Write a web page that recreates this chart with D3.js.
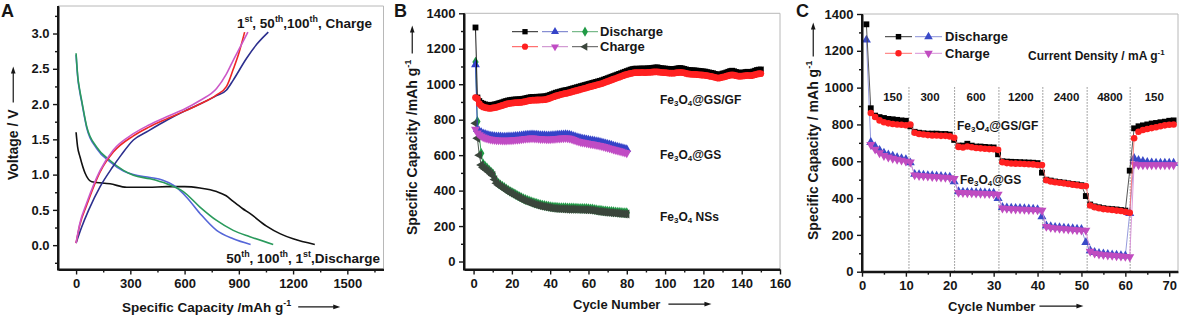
<!DOCTYPE html>
<html><head><meta charset="utf-8">
<script src="https://cdn.jsdelivr.net/npm/d3@7"></script>
<style>
body{margin:0;background:#fff}
svg{display:block}
text{font-family:"Liberation Sans",Arial,Helvetica,sans-serif;font-weight:bold;fill:#161616}
</style>
</head><body>
<script>
// ---------------- Panel A data: [capacity mAh/g, voltage V] ----------------
const aCharge1st   = [[0,0.03],[20,0.28],[59,0.57],[133,1.04],[206,1.32],[317,1.55],[400,1.67],[501,1.79],[600,1.9],[685,2.0],[777,2.13],[832,2.25],[870,2.5],[900,2.72],[932,3.02]];
const aCharge50th  = [[0,0.03],[20,0.3],[59,0.6],[133,1.06],[206,1.35],[317,1.58],[400,1.7],[501,1.82],[600,1.93],[685,2.05],[777,2.22],[830,2.42],[869,2.62],[910,2.82],[950,3.02]];
const aCharge100th = [[0,0.03],[30,0.25],[70,0.5],[133,0.83],[200,1.1],[250,1.28],[317,1.49],[400,1.62],[501,1.77],[600,1.9],[685,2.0],[777,2.12],[832,2.2],[869,2.34],[943,2.65],[1000,2.85],[1063,3.02]];
const aDis1st   = [[0,1.6],[8,1.4],[22,1.25],[50,1.02],[87,0.9],[188,0.87],[280,0.82],[400,0.82],[501,0.83],[600,0.83],[685,0.81],[777,0.76],[830,0.7],[869,0.62],[920,0.52],[961,0.45],[1053,0.27],[1130,0.16],[1200,0.09],[1320,0.01]];
const aDis50th  = [[0,2.7],[3,2.58],[9,2.38],[20,2.18],[31,2.03],[59,1.66],[114,1.37],[188,1.18],[262,1.05],[317,1.0],[409,0.96],[480,0.92],[538,0.85],[611,0.68],[685,0.45],[777,0.21],[869,0.09],[965,0.01]];
const aDis100th = [[0,2.72],[3,2.6],[9,2.4],[20,2.2],[31,2.05],[59,1.68],[114,1.39],[188,1.2],[262,1.06],[317,0.99],[409,0.94],[501,0.87],[593,0.76],[685,0.54],[777,0.35],[869,0.21],[961,0.12],[1090,0.01]];
const aXTicks = [0,300,600,900,1200,1500];
const aXMinor = [150,450,750,1050,1350,1650];
const aYTicks = [0,0.5,1,1.5,2,2.5,3];
const aYMinor = [-0.25,0.25,0.75,1.25,1.75,2.25,2.75,3.25];

// ---------------- Panel B data: capacity per cycle (cycle = index+1) ----------------
const bGSGFDis = [1320,925,905,895,890,886,884,882,882,884,886,888,892,895,898,902,905,908,910,912,
913,914,914,915,916,918,920,923,925,927,928,928,929,929,930,930,931,933,936,940,
944,948,952,955,958,961,964,966,968,971,974,977,980,983,986,989,992,995,998,1001,
1004,1007,1010,1013,1016,1019,1022,1026,1030,1034,1038,1042,1046,1050,1054,1058,1062,1066,1070,1074,
1078,1082,1085,1087,1088,1086,1088,1089,1087,1088,1090,1089,1091,1093,1094,1095,1092,1090,1089,1088,
1087,1086,1085,1084,1086,1088,1090,1091,1089,1086,1083,1080,1079,1078,1078,1077,1076,1075,1073,1072,
1071,1068,1066,1064,1062,1058,1055,1052,1056,1060,1062,1066,1070,1074,1076,1073,1069,1066,1064,1065,
1066,1068,1070,1069,1068,1072,1076,1080,1082,1083];
const bGSGFCha = [925,918,890,878,872,868,866,864,864,866,868,870,874,877,880,884,887,890,892,894,
895,896,896,897,898,900,902,905,907,909,910,910,911,911,912,912,913,915,918,922,
926,930,934,937,940,943,946,948,950,953,956,959,962,965,968,971,974,977,980,983,
986,989,992,995,998,1001,1004,1008,1012,1016,1020,1024,1028,1032,1036,1040,1044,1048,1052,1055,
1058,1061,1063,1065,1066,1065,1066,1067,1066,1066,1067,1067,1068,1069,1070,1070,1068,1067,1066,1065,
1064,1063,1062,1062,1063,1065,1066,1067,1066,1064,1061,1058,1057,1056,1056,1055,1054,1053,1052,1051,
1050,1048,1046,1044,1042,1039,1036,1034,1037,1040,1042,1045,1048,1051,1053,1051,1048,1046,1045,1046,
1047,1048,1050,1049,1048,1051,1054,1057,1059,1060];
const bGSDis = [1110,745,735,728,722,718,714,711,709,707,706,705,704,704,703,703,703,704,704,705,
706,707,708,709,710,711,713,714,715,716,716,715,714,713,712,711,711,710,710,710,
711,712,713,714,715,716,716,717,716,715,712,708,704,700,697,694,692,690,688,686,
684,682,680,678,676,674,671,668,665,662,659,656,653,650,647,644,641,638,635,632];
const bGSCha = [745,725,715,708,702,698,694,691,689,687,686,685,684,684,683,683,683,684,684,685,
686,687,688,689,690,691,693,694,695,696,696,695,694,693,692,691,691,690,690,690,
691,692,693,694,695,696,696,697,696,695,692,688,684,680,677,674,672,670,668,666,
664,662,660,658,656,654,651,648,645,642,639,636,633,630,627,624,621,618,615,612];
const bNSDis = [1125,790,705,610,550,538,528,517,506,495,470,450,440,432,425,418,410,403,396,390,
384,378,372,366,360,355,350,346,342,338,334,330,327,324,321,318,316,314,312,310,
308,307,306,305,304,304,303,303,302,302,302,302,301,301,300,300,300,299,299,298,
297,296,294,292,290,289,288,286,285,284,283,282,281,280,279,278,277,276,275,275];
const bNSCha = [780,695,600,545,530,522,514,505,495,485,462,442,432,424,417,410,402,395,388,382,
376,370,364,358,352,347,342,338,334,330,326,322,319,316,313,311,309,307,305,303,
301,300,299,298,297,297,296,296,295,295,295,295,294,294,293,293,293,292,292,291,
290,289,287,285,283,282,281,279,278,277,276,275,274,273,272,271,270,269,268,268];
const bXTicks = [0,20,40,60,80,100,120,140,160];
const bXMinor = [10,30,50,70,90,110,130,150];
const bYTicks = [0,200,400,600,800,1000,1200,1400];
const bYMinor = [100,300,500,700,900,1100,1300];

// ---------------- Panel C data: capacity per cycle (cycle = index+1) ----------------
const cGSGFDis = [1344,888,848,840,835,830,828,825,822,820,
790,760,755,752,750,750,750,748,748,745,
716,685,685,695,685,680,680,678,676,675,
638,600,598,597,596,595,594,593,592,590,
538,500,495,490,487,484,480,477,474,470,
411,365,355,350,345,342,340,338,335,332,
549,779,790,795,800,805,808,812,815,820,822];
const cGSGFCha = [null,862,840,822,812,806,802,800,798,796,
800,755,748,745,742,740,740,738,738,735,
728,678,675,680,676,672,670,668,666,665,
662,595,590,588,587,586,585,584,583,580,
580,497,490,486,483,480,476,473,470,466,
465,360,350,345,340,338,335,332,330,325,
320,725,760,770,775,780,785,790,795,798,800];
const cGSDis = [1259,703,680,660,645,635,628,620,615,610,
592,530,528,525,523,522,520,518,516,515,
489,435,433,432,431,430,430,429,428,427,
398,350,348,346,345,344,343,342,340,338,
299,250,245,242,240,238,236,234,232,230,
159,115,105,100,97,95,92,90,88,86,
317,616,605,600,595,592,590,590,590,590,590];
const cGSCha = [null,690,665,645,630,622,615,610,605,600,
595,525,522,520,518,516,515,513,512,510,
505,430,429,428,427,426,425,424,423,422,
420,345,343,341,340,339,338,337,336,335,
333,245,240,237,235,233,231,229,227,225,
225,110,100,95,92,90,88,86,84,82,
80,585,580,580,580,580,580,580,580,580,580];
const cRateBoundaries = [10.7,21.1,31.2,41.2,51.3,61.1];
const cRateLabels = ["150","300","600","1200","2400","4800","150"];
const cRateLabelCycles = [7,15.5,26,36.2,46.6,56.5,66.6];
const cXTicks = [0,10,20,30,40,50,60,70];
const cXMinor = [5,15,25,35,45,55,65];
const cYTicks = [0,200,400,600,800,1000,1200,1400];
const cYMinor = [100,300,500,700,900,1100,1300];

// ---------------- drawing ----------------
const W = 1184, H = 317;
const svg = d3.select("body").append("svg").attr("width", W).attr("height", H);

function addRich(t, parts, fs) {
  let cur = 0;
  parts.forEach(p => {
    const txt = p[0], k = p[1];
    const target = k === "sup" ? -0.42 * fs : k === "sub" ? 0.15 * fs : 0;
    const ts = t.append("tspan").text(txt);
    if (target - cur !== 0) ts.attr("dy", target - cur);
    if (k) ts.attr("font-size", fs * 0.66);
    cur = target;
  });
  return t;
}
function richText(g, parts, fs, x, y, anchor) {
  const t = g.append("text").attr("x", x).attr("y", y).attr("font-size", fs).attr("text-anchor", anchor || "start");
  return addRich(t, parts, fs);
}
function axisTitle(g, parts, fs, x, y, vertical, gap, len) {
  const grp = g.append("g").attr("transform", `translate(${x},${y})` + (vertical ? " rotate(-90)" : ""));
  const t = grp.append("text").attr("font-size", fs);
  addRich(t, parts, fs);
  const L = t.node().getComputedTextLength();
  const ay = -0.34 * fs, x0 = L + gap, x1 = L + gap + len;
  grp.append("line").attr("x1", x0).attr("x2", x1 - 4).attr("y1", ay).attr("y2", ay)
     .attr("stroke", "#161616").attr("stroke-width", 1.2);
  grp.append("path").attr("d", `M${x1},${ay}L${x1-7},${ay-2.3}L${x1-7},${ay+2.3}Z`).attr("fill", "#161616");
}
function drawFrame(g, x, y) {
  const [x0, x1] = x.range(), [y0, y1] = y.range();
  g.append("path").attr("d", `M${x0},${y1}H${x1}V${y0}`).attr("fill", "none").attr("stroke", "#b8b8b8").attr("stroke-width", 1);
}
function drawAxes(g, x, y, xt, xm, yt, ym, yfmt) {
  const y0 = y.range()[0], x0 = x.range()[0];
  const style = a => {
    a.attr("font-size", 13).attr("font-family", null);
    a.selectAll("text").attr("fill", "#161616");
    a.selectAll(".tick line").attr("stroke", "#161616").attr("stroke-width", 1.4);
    a.select(".domain").attr("stroke", "#161616").attr("stroke-width", 2);
  };
  const bm = g.append("g").attr("transform", `translate(0,${y0})`)
    .call(d3.axisBottom(x).tickValues(xm).tickSize(3).tickFormat("").tickSizeOuter(0));
  style(bm); bm.select(".domain").remove();
  const lm = g.append("g").attr("transform", `translate(${x0},0)`)
    .call(d3.axisLeft(y).tickValues(ym).tickSize(3).tickFormat("").tickSizeOuter(0));
  style(lm); lm.select(".domain").remove();
  const ba = g.append("g").attr("transform", `translate(0,${y0})`)
    .call(d3.axisBottom(x).tickValues(xt).tickSize(5).tickPadding(4).tickSizeOuter(0).tickFormat(d3.format("d")));
  style(ba);
  const la = g.append("g").attr("transform", `translate(${x0},0)`)
    .call(d3.axisLeft(y).tickValues(yt).tickSize(5).tickPadding(3.5).tickSizeOuter(0).tickFormat(yfmt || d3.format("d")));
  style(la);
  g.append("path").attr("d", `M${x0},${y.range()[1]}V${y0}H${x.range()[1]}`).attr("fill", "none")
    .attr("stroke", "#161616").attr("stroke-width", 2);
}
const sym = (type, size, rot) => ({ d: d3.symbol().type(type).size(size)(), rot: rot || 0 });
function drawSeries(g, x, y, values, color, lineColor, shape) {
  const pts = values.map((v, i) => ({ c: i + 1, v })).filter(d => d.v != null);
  g.append("path").datum(pts)
    .attr("d", d3.line().x(d => x(d.c)).y(d => y(d.v)))
    .attr("fill", "none").attr("stroke", lineColor).attr("stroke-width", 0.9);
  g.append("g").selectAll("path").data(pts).join("path")
    .attr("d", shape.d)
    .attr("transform", d => `translate(${x(d.c)},${y(d.v)}) rotate(${shape.rot})`)
    .attr("fill", color);
}
function legendRow(g, x0, y, items, label, fs) {
  items.forEach((it, i) => {
    const xs = x0 + i * it.step;
    g.append("line").attr("x1", xs).attr("x2", xs + it.len).attr("y1", y).attr("y2", y)
      .attr("stroke", it.line).attr("stroke-width", 1);
    g.append("path").attr("d", it.shape.d)
      .attr("transform", `translate(${xs + it.len / 2},${y}) rotate(${it.shape.rot})`).attr("fill", it.color);
  });
  g.append("text").attr("x", label.x).attr("y", y + 4.5).attr("font-size", fs).text(label.text);
}
const fe = (rest) => [["Fe"], ["3", "sub"], ["O"], ["4", "sub"], [rest]];

// ================= Panel A =================
{
  const g = svg.append("g");
  const x = d3.scaleLinear().domain([-100, 1700]).range([58, 383.5]);
  const y = d3.scaleLinear().domain([-0.345, 3.39]).range([269.5, 6]);
  drawFrame(g, x, y);
  const line = d3.line().x(d => x(d[0])).y(d => y(d[1])).curve(d3.curveMonotoneX);
  const series = [
    [aDis1st, "#111111"], [aDis50th, "#5566d8"], [aDis100th, "#2a9a5c"],
    [aCharge100th, "#2c2f8e"], [aCharge1st, "#ee2626"], [aCharge50th, "#cc58c8"]
  ];
  series.forEach(([d, c]) => g.append("path").datum(d).attr("d", line)
    .attr("fill", "none").attr("stroke", c).attr("stroke-width", 1.6));
  drawAxes(g, x, y, aXTicks, aXMinor, aYTicks, aYMinor, d3.format(".1f"));
  richText(g, [["1"], ["st", "sup"], [", 50"], ["th", "sup"], [",100"], ["th", "sup"], [",  Charge"]], 13.5, 372, 28, "end");
  richText(g, [["50"], ["th", "sup"], [", 100"], ["th", "sup"], [", 1"], ["st", "sup"], [",Discharge"]], 13.5, 380, 263, "end");
  axisTitle(g, [["Specific Capacity /mAh g"], ["-1", "sup"]], 13.5, 122, 311.5, false, 7, 42);
  axisTitle(g, [["Voltage / V"]], 14, 18, 180, true, 7, 36);
  g.append("text").attr("x", 1).attr("y", 17).attr("font-size", 18).text("A");
}

// ================= Panel B =================
{
  const g = svg.append("g");
  const x = d3.scaleLinear().domain([-5, 160]).range([464, 780]);
  const y = d3.scaleLinear().domain([-45, 1400]).range([269.5, 13.3]);
  drawFrame(g, x, y);
  const sq = sym(d3.symbolSquare, 34), ci = sym(d3.symbolCircle, 36);
  const tu = sym(d3.symbolTriangle, 34), td = sym(d3.symbolTriangle, 34, 180);
  const di = sym(d3.symbolDiamond, 34), tl = sym(d3.symbolTriangle, 34, -90);
  drawSeries(g, x, y, bNSDis, "#1f9a45", "#1f9a45", di);
  drawSeries(g, x, y, bNSCha, "#3b463c", "#3b463c", tl);
  drawSeries(g, x, y, bGSDis, "#3543c8", "#3543c8", tu);
  drawSeries(g, x, y, bGSCha, "#c04cc4", "#c04cc4", td);
  drawSeries(g, x, y, bGSGFDis, "#000000", "#000000", sq);
  drawSeries(g, x, y, bGSGFCha, "#ff2020", "#ff2020", ci);
  drawAxes(g, x, y, bXTicks, bXMinor, bYTicks, bYMinor);
  const lsq = sym(d3.symbolSquare, 28), lci = sym(d3.symbolCircle, 30);
  const ltu = sym(d3.symbolTriangle, 28), ltd = sym(d3.symbolTriangle, 28, 180);
  const ldi = sym(d3.symbolDiamond, 30), ltl = sym(d3.symbolTriangle, 28, -90);
  legendRow(g, 512, 31.7, [
    { len: 26, step: 30, line: "#222", color: "#000", shape: lsq },
    { len: 26, step: 30, line: "#6a74c8", color: "#3543c8", shape: ltu },
    { len: 26, step: 30, line: "#5aaa70", color: "#1f9a45", shape: ldi }
  ], { x: 600, text: "Discharge" }, 13);
  legendRow(g, 512, 46.7, [
    { len: 26, step: 30, line: "#ff5050", color: "#ff2020", shape: lci },
    { len: 26, step: 30, line: "#c884c8", color: "#c04cc4", shape: ltd },
    { len: 26, step: 30, line: "#555", color: "#3b463c", shape: ltl }
  ], { x: 600, text: "Charge" }, 13);
  richText(g, fe("@GS/GF"), 12, 660, 104);
  richText(g, fe("@GS"), 12, 660, 159);
  richText(g, fe(" NSs"), 12, 660, 221);
  axisTitle(g, [["Cycle Number"]], 13, 573, 308.5, false, 8, 43);
  axisTitle(g, [["Specific Capacity /mAh g"], ["-1", "sup"]], 14, 417, 235, true, 6, 28);
  g.append("text").attr("x", 394).attr("y", 17).attr("font-size", 18).text("B");
}

// ================= Panel C =================
{
  const g = svg.append("g");
  const x = d3.scaleLinear().domain([0, 72]).range([862, 1178]);
  const y = d3.scaleLinear().domain([0, 1400]).range([271.7, 14]);
  drawFrame(g, x, y);
  g.append("g").selectAll("line").data(cRateBoundaries).join("line")
    .attr("x1", d => x(d)).attr("x2", d => x(d)).attr("y1", y(0)).attr("y2", y(1010))
    .attr("stroke", "#888").attr("stroke-width", 1).attr("stroke-dasharray", "1.5,1.5");
  g.append("g").selectAll("text").data(cRateLabels).join("text")
    .attr("x", (d, i) => x(cRateLabelCycles[i])).attr("y", 101).attr("text-anchor", "middle")
    .attr("font-size", 11.5).text(d => d);
  const sq = sym(d3.symbolSquare, 34), ci = sym(d3.symbolCircle, 34);
  const tu = sym(d3.symbolTriangle, 36), td = sym(d3.symbolTriangle, 36, 180);
  drawSeries(g, x, y, cGSDis, "#3a4ac8", "#8a90d8", tu);
  drawSeries(g, x, y, cGSCha, "#c04cc0", "#d890d8", td);
  drawSeries(g, x, y, cGSGFDis, "#000000", "#444", sq);
  drawSeries(g, x, y, cGSGFCha, "#ff2020", "#ff7070", ci);
  drawAxes(g, x, y, cXTicks, cXMinor, cYTicks, cYMinor);
  legendRow(g, 885, 36.7, [
    { len: 27, step: 30, line: "#333", color: "#000", shape: sym(d3.symbolSquare, 30) },
    { len: 27, step: 30, line: "#8a90d8", color: "#3a4ac8", shape: sym(d3.symbolTriangle, 32) }
  ], { x: 945, text: "Discharge" }, 13);
  legendRow(g, 885, 53.3, [
    { len: 27, step: 30, line: "#ff7070", color: "#ff2020", shape: sym(d3.symbolCircle, 32) },
    { len: 27, step: 30, line: "#d890d8", color: "#c04cc0", shape: sym(d3.symbolTriangle, 32, 180) }
  ], { x: 945, text: "Charge" }, 13);
  richText(g, [["Current Density / mA g"], ["-1", "sup"]], 12, 1028, 60);
  richText(g, fe("@GS/GF"), 12, 957, 130);
  richText(g, fe("@GS"), 12, 960, 184);
  axisTitle(g, [["Cycle Number"]], 13, 948, 310.5, false, 4, 44);
  axisTitle(g, [["Specific Capacity / mAh g"], ["-1", "sup"]], 14, 818, 240, true, 4, 34);
  g.append("text").attr("x", 796).attr("y", 17).attr("font-size", 18).text("C");
}
</script>
</body></html>
